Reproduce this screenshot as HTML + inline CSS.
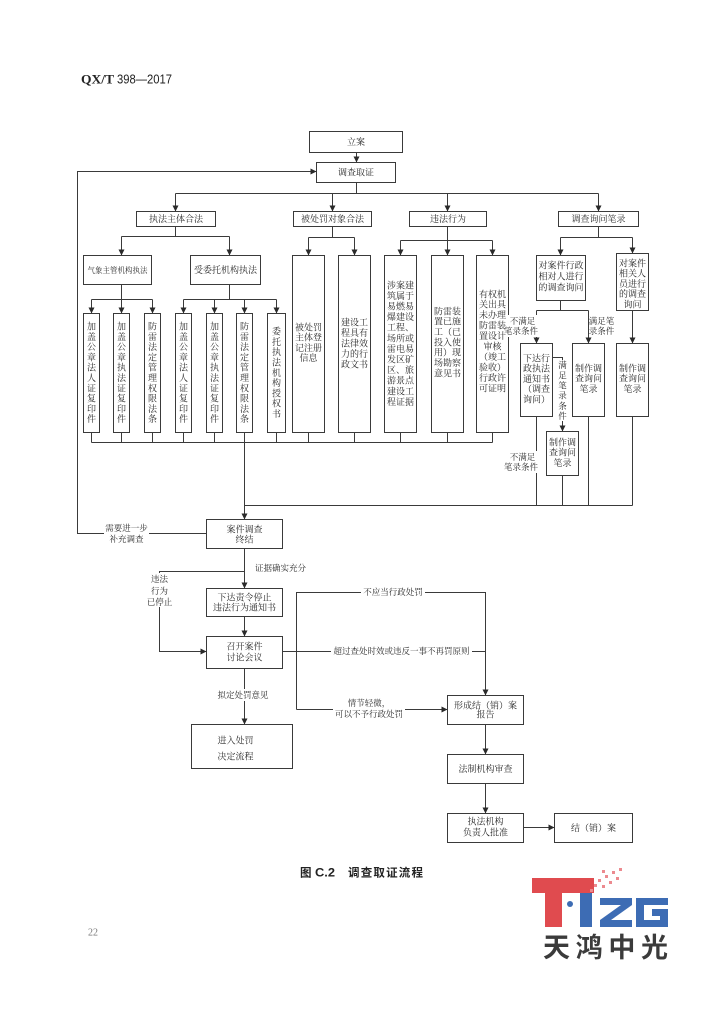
<!DOCTYPE html>
<html><head><meta charset="utf-8"><style>
html,body{margin:0;padding:0;background:#fff;}
svg{display:block;}
.b{fill:#fff;stroke:#3a3a3a;stroke-width:1;}
.l{fill:none;stroke:#3a3a3a;stroke-width:1;}
.a{fill:#2a2a2a;}
.t{font-family:"Liberation Serif","Noto Serif CJK SC",serif;font-size:9px;fill:#2a2a2a;text-anchor:middle;}
.s{font-size:8.5px;}
.w{fill:#fff;}
</style></head><body>
<svg width="724" height="1024" viewBox="0 0 724 1024" xmlns="http://www.w3.org/2000/svg">
<rect x="0" y="0" width="724" height="1024" fill="#fff"/>
<!-- header -->
<text x="81" y="83.5" font-family="Liberation Serif" font-weight="bold" font-size="13" fill="#222" textLength="33" lengthAdjust="spacingAndGlyphs">QX/T</text>
<text x="117" y="83.5" font-family="Liberation Sans" font-size="12.5" fill="#222" textLength="55" lengthAdjust="spacingAndGlyphs">398—2017</text>

<!-- connectors -->
<g class="l">
<path d="M356.5 152.5V162"/>
<path d="M356.5 182.5V193.5M175.5 193.5H598.5M175.5 193.5V211M332.5 193.5V211M447.5 193.5V211M598.5 193.5V211"/>
<path d="M175.5 226.5V236.5M121.5 236.5H229.5M121.5 236.5V255M229.5 236.5V255"/>
<path d="M332.5 226.5V237.5M308.5 237.5H354.5M308.5 237.5V255M354.5 237.5V255"/>
<path d="M447.5 226.5V240.5M400.5 240.5H492.5M400.5 240.5V255M447.5 240.5V255M492.5 240.5V255"/>
<path d="M598.5 226.5V237.5M560.5 237.5H632.5M560.5 237.5V255M632.5 237.5V253"/>
<path d="M121.5 284.5V299.5M91.5 299.5H152.5M91.5 299.5V313M121.5 299.5V313M152.5 299.5V313"/>
<path d="M229.5 284.5V299.5M183.5 299.5H276.5M183.5 299.5V313M214.5 299.5V313M244.5 299.5V313M276.5 299.5V313"/>
<path d="M91.5 432.5V442.5M121.5 432.5V442.5M152.5 432.5V442.5M183.5 432.5V442.5M214.5 432.5V442.5M244.5 432.5V442.5M276.5 432.5V442.5M308.5 432.5V442.5M354.5 432.5V442.5M400.5 432.5V442.5M447.5 432.5V442.5M492.5 432.5V442.5M91.5 442.5H492.5M244.5 442.5V519"/>
<path d="M560.5 300.5V310.5M536.5 310.5H588.5M536.5 310.5V343M588.5 310.5V343M632.5 310.5V343"/>
<path d="M552.5 357.5H562.5V431"/>
<path d="M536.5 416.5V505.5M562.5 475.5V505.5M588.5 416.5V505.5M632.5 416.5V505.5M244.5 505.5H632.5"/>
<path d="M206.5 533.5H77.5V171.5H316"/>
<path d="M244.5 548.5V588"/>
<path d="M244.5 571.5H159.5V651.5H206"/>
<path d="M244.5 616.5V636"/>
<path d="M244.5 668.5V724"/>
<path d="M282.5 651.5H485.5"/>
<path d="M296.5 709.5V592.5H485.5V695"/>
<path d="M296.5 709.5H447"/>
<path d="M485.5 724.5V754"/>
<path d="M485.5 783.5V813"/>
<path d="M523.5 827.5H554"/>
</g>

<!-- arrowheads -->
<g class="a">
<polygon points="353.5,156.5 359.5,156.5 356.5,162.5"/>
<polygon points="172.5,205.5 178.5,205.5 175.5,211.5"/>
<polygon points="329.5,205.5 335.5,205.5 332.5,211.5"/>
<polygon points="444.5,205.5 450.5,205.5 447.5,211.5"/>
<polygon points="595.5,205.5 601.5,205.5 598.5,211.5"/>
<polygon points="118.5,249.5 124.5,249.5 121.5,255.5"/>
<polygon points="226.5,249.5 232.5,249.5 229.5,255.5"/>
<polygon points="305.5,249.5 311.5,249.5 308.5,255.5"/>
<polygon points="351.5,249.5 357.5,249.5 354.5,255.5"/>
<polygon points="397.5,249.5 403.5,249.5 400.5,255.5"/>
<polygon points="444.5,249.5 450.5,249.5 447.5,255.5"/>
<polygon points="489.5,249.5 495.5,249.5 492.5,255.5"/>
<polygon points="557.5,249.5 563.5,249.5 560.5,255.5"/>
<polygon points="629.5,247.5 635.5,247.5 632.5,253.5"/>
<polygon points="88.5,307.5 94.5,307.5 91.5,313.5"/>
<polygon points="118.5,307.5 124.5,307.5 121.5,313.5"/>
<polygon points="149.5,307.5 155.5,307.5 152.5,313.5"/>
<polygon points="180.5,307.5 186.5,307.5 183.5,313.5"/>
<polygon points="211.5,307.5 217.5,307.5 214.5,313.5"/>
<polygon points="241.5,307.5 247.5,307.5 244.5,313.5"/>
<polygon points="273.5,307.5 279.5,307.5 276.5,313.5"/>
<polygon points="533.5,337.5 539.5,337.5 536.5,343.5"/>
<polygon points="585.5,337.5 591.5,337.5 588.5,343.5"/>
<polygon points="629.5,337.5 635.5,337.5 632.5,343.5"/>
<polygon points="559.5,425.5 565.5,425.5 562.5,431.5"/>
<polygon points="241.5,513.5 247.5,513.5 244.5,519.5"/>
<polygon points="310.5,168.5 310.5,174.5 316.5,171.5"/>
<polygon points="241.5,582.5 247.5,582.5 244.5,588.5"/>
<polygon points="200.5,648.5 200.5,654.5 206.5,651.5"/>
<polygon points="241.5,630.5 247.5,630.5 244.5,636.5"/>
<polygon points="241.5,718.5 247.5,718.5 244.5,724.5"/>
<polygon points="482.5,689.5 488.5,689.5 485.5,695.5"/>
<polygon points="441.5,706.5 441.5,712.5 447.5,709.5"/>
<polygon points="482.5,748.5 488.5,748.5 485.5,754.5"/>
<polygon points="482.5,807.5 488.5,807.5 485.5,813.5"/>
<polygon points="548.5,824.5 548.5,830.5 554.5,827.5"/>
</g>

<!-- boxes -->
<g class="b">
<rect x="309.5" y="131.5" width="93" height="21"/>
<rect x="316.5" y="162.5" width="79" height="20"/>
<rect x="136.5" y="211.5" width="79" height="15"/>
<rect x="293.5" y="211.5" width="78" height="15"/>
<rect x="409.5" y="211.5" width="77" height="15"/>
<rect x="558.5" y="211.5" width="80" height="15"/>
<rect x="83.5" y="255.5" width="68" height="29"/>
<rect x="190.5" y="255.5" width="70" height="29"/>
<rect x="83.5" y="313.5" width="16" height="119"/>
<rect x="113.5" y="313.5" width="16" height="119"/>
<rect x="144.5" y="313.5" width="16" height="119"/>
<rect x="175.5" y="313.5" width="16" height="119"/>
<rect x="206.5" y="313.5" width="16" height="119"/>
<rect x="236.5" y="313.5" width="16" height="119"/>
<rect x="267.5" y="313.5" width="18" height="119"/>
<rect x="292.5" y="255.5" width="32" height="177"/>
<rect x="338.5" y="255.5" width="32" height="177"/>
<rect x="384.5" y="255.5" width="32" height="177"/>
<rect x="431.5" y="255.5" width="32" height="177"/>
<rect x="476.5" y="255.5" width="32" height="177"/>
<rect x="536.5" y="255.5" width="49" height="45"/>
<rect x="616.5" y="253.5" width="32" height="57"/>
<rect x="520.5" y="343.5" width="32" height="73"/>
<rect x="572.5" y="343.5" width="32" height="73"/>
<rect x="616.5" y="343.5" width="32" height="73"/>
<rect x="546.5" y="431.5" width="32" height="44"/>
<rect x="206.5" y="519.5" width="76" height="29"/>
<rect x="206.5" y="588.5" width="76" height="28"/>
<rect x="206.5" y="636.5" width="76" height="32"/>
<rect x="191.5" y="724.5" width="101" height="44"/>
<rect x="447.5" y="695.5" width="76" height="29"/>
<rect x="447.5" y="754.5" width="76" height="29"/>
<rect x="447.5" y="813.5" width="76" height="29"/>
<rect x="554.5" y="813.5" width="78" height="29"/>
</g>

<!-- label backgrounds -->
<g class="w">
<rect x="504" y="315" width="33" height="22"/>
<rect x="504" y="451" width="33" height="22"/>
<rect x="557" y="360" width="11" height="61"/>
<rect x="104" y="522" width="45" height="23"/>
<rect x="146" y="573" width="27" height="34"/>
<rect x="216" y="689" width="54" height="12"/>
<rect x="361" y="586" width="64" height="12"/>
<rect x="331" y="645" width="141" height="12"/>
<rect x="333" y="697" width="72" height="23"/>
</g>

<!-- box texts -->
<g class="t">
<text x="356" y="144.8">立案</text>
<text x="356" y="175.3">调查取证</text>
<text x="176" y="221.8">执法主体合法</text>
<text x="332.5" y="221.8">被处罚对象合法</text>
<text x="448" y="221.8">违法行为</text>
<text x="598.5" y="221.8">调查询问笔录</text>
<text x="87.5" y="273" text-anchor="start" font-size="8" textLength="60" lengthAdjust="spacingAndGlyphs">气象主管机构执法</text>
<text x="225.5" y="273">受委托机构执法</text>

<text><tspan x="91.5" y="329.5">加</tspan><tspan x="91.5" y="339.8">盖</tspan><tspan x="91.5" y="350.1">公</tspan><tspan x="91.5" y="360.4">章</tspan><tspan x="91.5" y="370.7">法</tspan><tspan x="91.5" y="381">人</tspan><tspan x="91.5" y="391.3">证</tspan><tspan x="91.5" y="401.6">复</tspan><tspan x="91.5" y="411.9">印</tspan><tspan x="91.5" y="422.2">件</tspan></text>
<text><tspan x="121.5" y="329.5">加</tspan><tspan x="121.5" y="339.8">盖</tspan><tspan x="121.5" y="350.1">公</tspan><tspan x="121.5" y="360.4">章</tspan><tspan x="121.5" y="370.7">执</tspan><tspan x="121.5" y="381">法</tspan><tspan x="121.5" y="391.3">证</tspan><tspan x="121.5" y="401.6">复</tspan><tspan x="121.5" y="411.9">印</tspan><tspan x="121.5" y="422.2">件</tspan></text>
<text><tspan x="152.5" y="329.5">防</tspan><tspan x="152.5" y="339.8">雷</tspan><tspan x="152.5" y="350.1">法</tspan><tspan x="152.5" y="360.4">定</tspan><tspan x="152.5" y="370.7">管</tspan><tspan x="152.5" y="381">理</tspan><tspan x="152.5" y="391.3">权</tspan><tspan x="152.5" y="401.6">限</tspan><tspan x="152.5" y="411.9">法</tspan><tspan x="152.5" y="422.2">条</tspan></text>
<text><tspan x="183.5" y="329.5">加</tspan><tspan x="183.5" y="339.8">盖</tspan><tspan x="183.5" y="350.1">公</tspan><tspan x="183.5" y="360.4">章</tspan><tspan x="183.5" y="370.7">法</tspan><tspan x="183.5" y="381">人</tspan><tspan x="183.5" y="391.3">证</tspan><tspan x="183.5" y="401.6">复</tspan><tspan x="183.5" y="411.9">印</tspan><tspan x="183.5" y="422.2">件</tspan></text>
<text><tspan x="214.5" y="329.5">加</tspan><tspan x="214.5" y="339.8">盖</tspan><tspan x="214.5" y="350.1">公</tspan><tspan x="214.5" y="360.4">章</tspan><tspan x="214.5" y="370.7">执</tspan><tspan x="214.5" y="381">法</tspan><tspan x="214.5" y="391.3">证</tspan><tspan x="214.5" y="401.6">复</tspan><tspan x="214.5" y="411.9">印</tspan><tspan x="214.5" y="422.2">件</tspan></text>
<text><tspan x="244.5" y="329.5">防</tspan><tspan x="244.5" y="339.8">雷</tspan><tspan x="244.5" y="350.1">法</tspan><tspan x="244.5" y="360.4">定</tspan><tspan x="244.5" y="370.7">管</tspan><tspan x="244.5" y="381">理</tspan><tspan x="244.5" y="391.3">权</tspan><tspan x="244.5" y="401.6">限</tspan><tspan x="244.5" y="411.9">法</tspan><tspan x="244.5" y="422.2">条</tspan></text>
<text><tspan x="276.5" y="334.6">委</tspan><tspan x="276.5" y="344.9">托</tspan><tspan x="276.5" y="355.2">执</tspan><tspan x="276.5" y="365.5">法</tspan><tspan x="276.5" y="375.8">机</tspan><tspan x="276.5" y="386.1">构</tspan><tspan x="276.5" y="396.4">授</tspan><tspan x="276.5" y="406.7">权</tspan><tspan x="276.5" y="417">书</tspan></text>

<text><tspan x="308.5" y="330.3">被处罚</tspan><tspan x="308.5" y="340.6">主体登</tspan><tspan x="308.5" y="350.9">记注册</tspan><tspan x="308.5" y="361.2">信息</tspan></text>
<text><tspan x="354.5" y="325.7">建设工</tspan><tspan x="354.5" y="336.2">程具有</tspan><tspan x="354.5" y="346.7">法律效</tspan><tspan x="354.5" y="357.2">力的行</tspan><tspan x="354.5" y="367.7">政文书</tspan></text>
<text><tspan x="400.5" y="288.3">涉案建</tspan><tspan x="400.5" y="298.9">筑属于</tspan><tspan x="400.5" y="309.5">易燃易</tspan><tspan x="400.5" y="320.1">爆建设</tspan><tspan x="400.5" y="330.7">工程、</tspan><tspan x="400.5" y="341.3">场所或</tspan><tspan x="400.5" y="351.9">雷电易</tspan><tspan x="400.5" y="362.5">发区矿</tspan><tspan x="400.5" y="373.1">区、旅</tspan><tspan x="400.5" y="383.7">游景点</tspan><tspan x="400.5" y="394.3">建设工</tspan><tspan x="400.5" y="404.9">程证据</tspan></text>
<text><tspan x="447.5" y="314.3">防雷装</tspan><tspan x="447.5" y="324.6">置已施</tspan><tspan x="447.5" y="335">工（已</tspan><tspan x="447.5" y="345.3">投入使</tspan><tspan x="447.5" y="355.7">用）现</tspan><tspan x="447.5" y="366">场勘察</tspan><tspan x="447.5" y="376.4">意见书</tspan></text>
<text><tspan x="492.5" y="297.3">有权机</tspan><tspan x="492.5" y="307.7">关出具</tspan><tspan x="492.5" y="318.2">未办理</tspan><tspan x="492.5" y="328.6">防雷装</tspan><tspan x="492.5" y="339.1">置设计</tspan><tspan x="492.5" y="349.5">审核</tspan><tspan x="492.5" y="360">（竣工</tspan><tspan x="492.5" y="370.4">验收）</tspan><tspan x="492.5" y="380.9">行政许</tspan><tspan x="492.5" y="391.3">可证明</tspan></text>

<text><tspan x="561" y="268.3">对案件行政</tspan><tspan x="561" y="279.3">相对人进行</tspan><tspan x="561" y="290.3">的调查询问</tspan></text>
<text><tspan x="632.5" y="266.3">对案件</tspan><tspan x="632.5" y="276.6">相关人</tspan><tspan x="632.5" y="286.9">员进行</tspan><tspan x="632.5" y="297.2">的调查</tspan><tspan x="632.5" y="307.5">询问</tspan></text>
<text><tspan x="536.5" y="361.3">下达行</tspan><tspan x="536.5" y="371.6">政执法</tspan><tspan x="536.5" y="381.9">通知书</tspan><tspan x="536.5" y="392.2">（调查</tspan><tspan x="536.5" y="402.5">询问）</tspan></text>
<text><tspan x="588.5" y="371.3">制作调</tspan><tspan x="588.5" y="381.6">查询问</tspan><tspan x="588.5" y="391.9">笔录</tspan></text>
<text><tspan x="632.5" y="371.3">制作调</tspan><tspan x="632.5" y="381.6">查询问</tspan><tspan x="632.5" y="391.9">笔录</tspan></text>
<text><tspan x="562.5" y="445.3">制作调</tspan><tspan x="562.5" y="455.6">查询问</tspan><tspan x="562.5" y="465.9">笔录</tspan></text>

<text><tspan x="244.5" y="532.3">案件调查</tspan><tspan x="244.5" y="542.3">终结</tspan></text>
<text><tspan x="244.5" y="600.3">下达责令停止</tspan><tspan x="244.5" y="610.3">违法行为通知书</tspan></text>
<text><tspan x="244.5" y="649.3">召开案件</tspan><tspan x="244.5" y="660.3">讨论会议</tspan></text>
<text><tspan x="235.5" y="743.3">进入处罚</tspan><tspan x="235.5" y="759.3">决定流程</tspan></text>
<text><tspan x="485.5" y="708.3">形成结（销）案</tspan><tspan x="485.5" y="717.3">报告</tspan></text>
<text x="485.5" y="771.8">法制机构审查</text>
<text><tspan x="485.5" y="824.3">执法机构</tspan><tspan x="485.5" y="835.3">负责人批准</tspan></text>
<text x="593.5" y="830.8">结（销）案</text>
</g>

<!-- edge labels -->
<g class="t s">
<text><tspan x="522.5" y="324.1">不满足</tspan><tspan x="521" y="334.1">笔录条件</tspan></text>
<text><tspan x="601.5" y="324.1">满足笔</tspan><tspan x="601.5" y="334.1">录条件</tspan></text>
<text><tspan x="562.5" y="368.1">满</tspan><tspan x="562.5" y="378.3">足</tspan><tspan x="562.5" y="388.5">笔</tspan><tspan x="562.5" y="398.7">录</tspan><tspan x="562.5" y="408.9">条</tspan><tspan x="562.5" y="419.1">件</tspan></text>
<text><tspan x="522.5" y="460.1">不满足</tspan><tspan x="521" y="470.1">笔录条件</tspan></text>
<text><tspan x="126.5" y="531.1">需要进一步</tspan><tspan x="126.5" y="542.1">补充调查</tspan></text>
<text x="280.5" y="571.1">证据确实充分</text>
<text><tspan x="159.5" y="582.1">违法</tspan><tspan x="159.5" y="594.1">行为</tspan><tspan x="159.5" y="605.1">已停止</tspan></text>
<text x="243" y="698.1">拟定处罚意见</text>
<text x="393" y="595.1">不应当行政处罚</text>
<text x="401.5" y="654.1">超过查处时效或违反一事不再罚原则</text>
<text><tspan x="369" y="706.1">情节轻微，</tspan><tspan x="369" y="717.1">可以不予行政处罚</tspan></text>
</g>

<!-- caption -->
<text x="300" y="876.5" font-family="Liberation Sans, Noto Sans CJK SC, sans-serif" font-weight="bold" font-size="11.5" fill="#222">图</text>
<text x="315" y="876.5" font-family="Liberation Sans, Noto Sans CJK SC, sans-serif" font-weight="bold" font-size="11.5" fill="#222" textLength="20" lengthAdjust="spacingAndGlyphs">C.2</text>
<text x="348" y="876.5" font-family="Liberation Sans, Noto Sans CJK SC, sans-serif" font-weight="bold" font-size="11.5" fill="#222" textLength="75" lengthAdjust="spacing">调查取证流程</text>

<!-- page number -->
<text x="88" y="935.5" font-family="Liberation Serif, serif" font-size="10" fill="#777">22</text>

<!-- logo -->
<g>
<rect x="532" y="878" width="62" height="15" fill="#e04b4f"/>
<rect x="545" y="893" width="17" height="34" fill="#e04b4f"/>
<g fill="#ec8a8f">
<rect x="594" y="884" width="3" height="3"/>
<rect x="598" y="879" width="3" height="3"/>
<rect x="602" y="885" width="3" height="3"/>
<rect x="605" y="875" width="3" height="3"/>
<rect x="609" y="881" width="3" height="3"/>
<rect x="612" y="871" width="3" height="3"/>
<rect x="616" y="877" width="3" height="3"/>
<rect x="619" y="868" width="3" height="3"/>
<rect x="602" y="870" width="3" height="3"/>
<rect x="590" y="889" width="3" height="3"/>
</g>
<circle cx="570" cy="904" r="3" fill="#3d6cb4"/>
<rect x="580" y="893" width="12" height="34" fill="#3d6cb4"/>
<polygon fill="#3d6cb4" points="600,898 632,898 632,905 611,920 632,920 632,927 600,927 600,920 621,905 600,905"/>
<polygon fill="#3d6cb4" points="636,898 668,898 668,905 644,905 644,920 660,920 660,916 652,916 652,909 668,909 668,927 636,927"/>
<text x="543" y="957" font-family="Liberation Sans, Noto Sans CJK SC, sans-serif" font-weight="bold" font-size="27" fill="#3b3b3b" textLength="125" lengthAdjust="spacing">天鸿中光</text>
</g>
</svg>
</body></html>
